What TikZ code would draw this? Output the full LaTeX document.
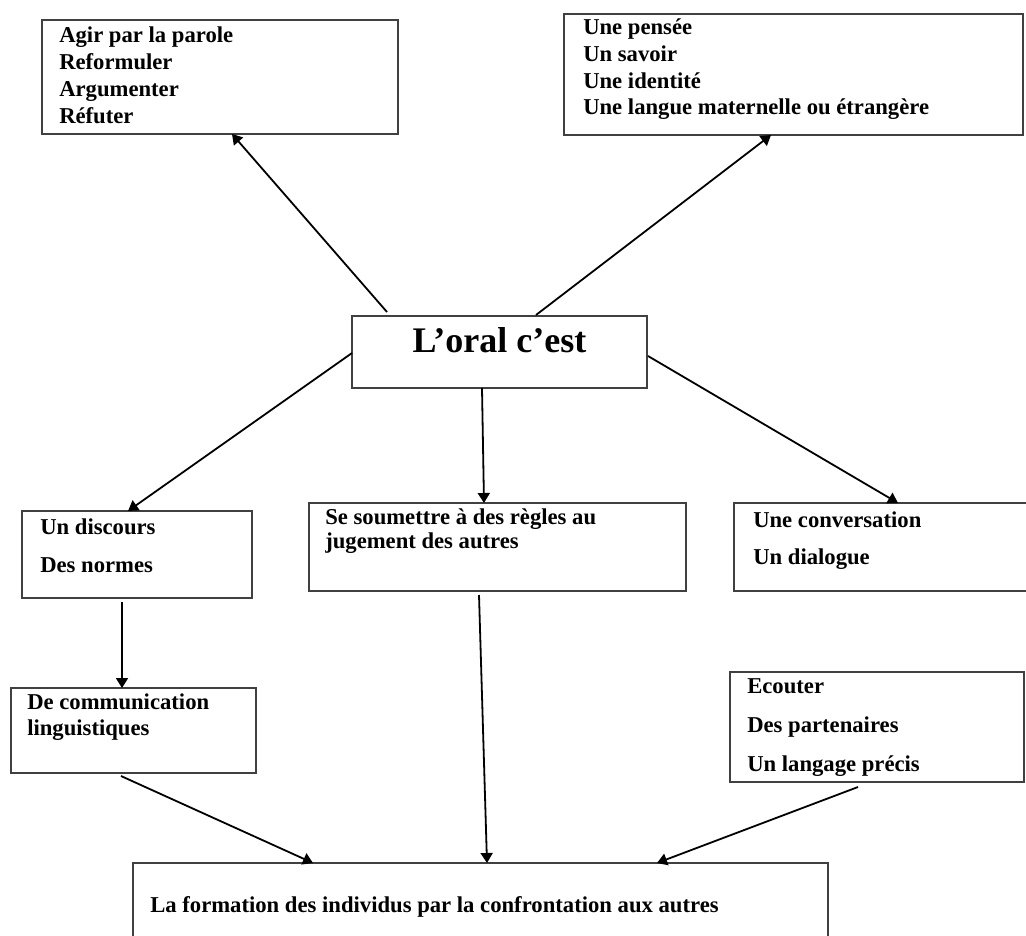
\documentclass[tikz,border=0pt]{standalone}
\usepackage{fontspec}
\setmainfont{Liberation Serif}
\usetikzlibrary{arrows.meta,fit,calc}
\tikzset{
  box/.style={draw=black!75, line width=1.4pt, inner sep=0pt, outer sep=0pt, rectangle},
  txt/.style={anchor=base west, inner sep=0pt, font=\fontsize{17pt}{20pt}\selectfont\bfseries},
  bigtxt/.style={anchor=base, inner sep=0pt, font=\fontsize{27pt}{30pt}\selectfont\bfseries},
  arr/.style={draw=black, line width=1.35pt, -{Triangle[length=7.5pt,width=9pt]}}
}
\begin{document}
\begin{tikzpicture}[x=0.75pt,y=-0.75pt]
\useasboundingbox (0,0) rectangle (1026,936);
\fill[white] (0,0) rectangle (1026,936);
\clip (0,0) rectangle (1026,936);

% boxes
\node[box, fit={(42,20) (398,134)}] (tl) {};
\node[box, fit={(564,14) (1023,135)}] (tr) {};
\node[box, fit={(352,316) (647,388)}] (c) {};
\node[box, fit={(22,511) (252,598)}] (lm) {};
\node[box, fit={(309,503) (686,591)}] (mm) {};
\node[box, fit={(734,503) (1045,591)}] (rm) {};
\node[box, fit={(11,688) (256,773)}] (ll) {};
\node[box, fit={(730,672) (1024,782)}] (rl) {};
\node[box, fit={(133,863) (828,980)}] (bot) {};

% texts
\node[txt] (tl1) at (59,42) {Agir par la parole};
\node[txt] (tl2) at (59,69) {Reformuler};
\node[txt] (tl3) at (59,96) {Argumenter};
\node[txt] (tl4) at (59,123) {Réfuter};

\node[txt] (tr1) at (583,34) {Une pensée};
\node[txt] (tr2) at (583,61) {Un savoir};
\node[txt] (tr3) at (583,88) {Une identité};
\node[txt] (tr4) at (583,114) {Une langue maternelle ou étrangère};

\node[bigtxt] (ct) at (499.5,352) {L’oral c’est};

\node[txt] (lm1) at (40,534) {Un discours};
\node[txt] (lm2) at (40,572) {Des normes};

\node[txt] (mm1) at (325,524) {Se soumettre à des règles au};
\node[txt] (mm2) at (325,548) {jugement des autres};

\node[txt] (rm1) at (753,527) {Une conversation};
\node[txt] (rm2) at (753,564) {Un dialogue};

\node[txt] (ll1) at (27,709) {De communication};
\node[txt] (ll2) at (27,735) {linguistiques};

\node[txt] (rl1) at (747,693) {Ecouter};
\node[txt] (rl2) at (747,732) {Des partenaires};
\node[txt] (rl3) at (747,771) {Un langage précis};

\node[txt] (bt) at (150,912) {La formation des individus par la confrontation aux autres};

% connectors
\draw[arr] ($(c.north west)+(35,-4)$) -- ($(tl.south west)+(190,0)$);
\draw[arr] ($(c.north west)+(184,-1)$) -- ($(tr.south west)+(207,0)$);
\draw[arr] ($(c.north west)+(0,37)$) -- ($(lm.north west)+(106,0)$);
\draw[arr] ($(c.south west)+(130,0)$) -- ($(mm.north west)+(175,0)$);
\draw[arr] ($(c.north east)+(1,40)$) -- ($(rm.north west)+(164,0)$);
\draw[arr] ($(lm.south west)+(100,4)$) -- ($(ll.north west)+(111,0)$);
\draw[arr] ($(ll.south west)+(110,3)$) -- ($(bot.north west)+(180,0)$);
\draw[arr] ($(mm.south west)+(170,4)$) -- ($(bot.north west)+(354,0)$);
\draw[arr] ($(rl.south west)+(128,5)$) -- ($(bot.north west)+(524,0)$);
\end{tikzpicture}
\end{document}
